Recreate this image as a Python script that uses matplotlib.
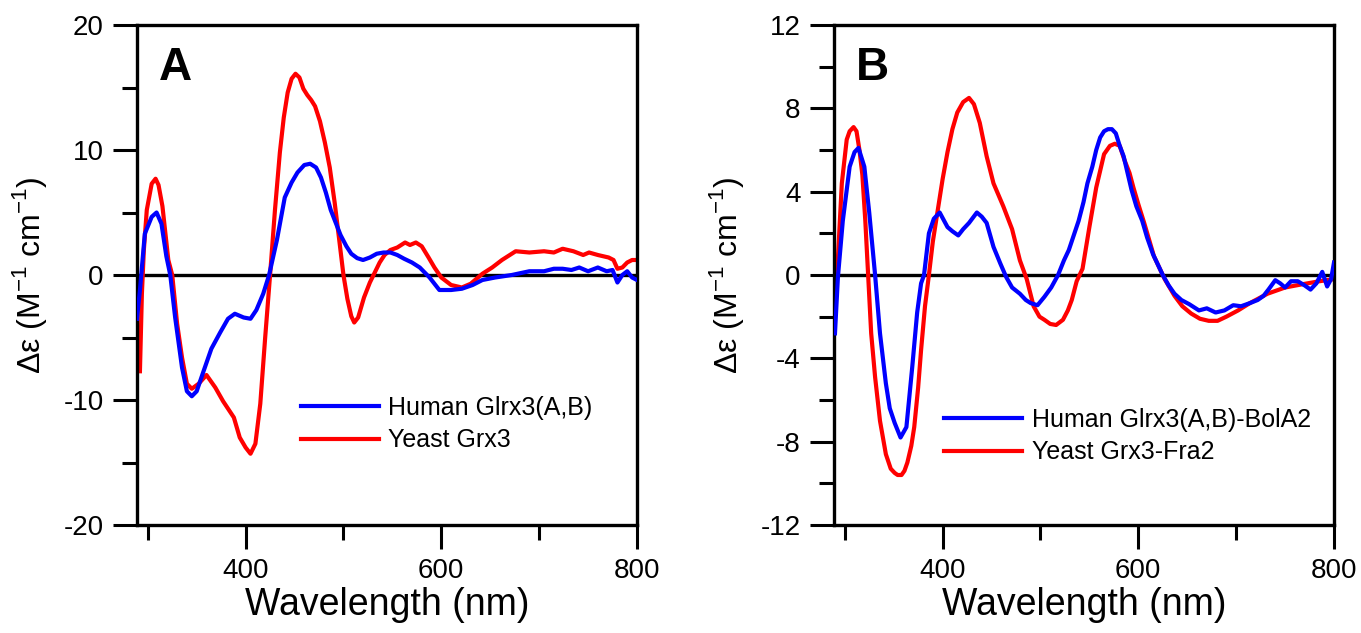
import matplotlib
matplotlib.use("Agg")
import matplotlib.pyplot as plt
from matplotlib.ticker import MultipleLocator

plt.rcParams["font.family"] = ["Liberation Sans", "DejaVu Sans"]
plt.rcParams["mathtext.fontset"] = "custom"
plt.rcParams["mathtext.rm"] = "Liberation Sans"
plt.rcParams["axes.unicode_minus"] = False

# ---- Panel A: Human Glrx3(A,B) vs Yeast Grx3 ----
a_human_wl = [289, 292, 297, 304, 309, 314, 319, 323, 328, 335, 340, 345, 350, 357,
              365, 374, 382, 389, 398, 405, 411, 418, 424, 432, 440, 447, 453, 460,
              466, 472, 477, 482, 487, 492, 497, 503, 508, 514, 520, 527, 534, 541,
              548, 555, 562, 570, 578, 588, 598, 610, 621, 632, 642, 655, 672, 690,
              705, 715, 724, 733, 741, 750, 760, 769, 775, 780, 785, 790, 795, 800]
a_human_de = [-3.5, -1.2, 3.3, 4.65, 5.0, 4.1, 1.5, 0, -3.4, -7.4, -9.3, -9.7, -9.3,
              -7.7, -5.9, -4.6, -3.5, -3.1, -3.4, -3.5, -2.8, -1.5, 0, 2.8, 6.2, 7.4,
              8.2, 8.8, 8.9, 8.6, 7.8, 6.6, 5.2, 4.2, 3.2, 2.3, 1.7, 1.35, 1.2, 1.4,
              1.7, 1.8, 1.8, 1.6, 1.3, 1.0, 0.6, -0.2, -1.2, -1.2, -1.1, -0.8, -0.4,
              -0.2, 0.0, 0.3, 0.3, 0.5, 0.5, 0.4, 0.6, 0.3, 0.6, 0.3, 0.4, -0.6, 0.0,
              0.3, -0.2, -0.4]

a_yeast_wl = [292, 294, 296, 299, 304, 308, 311, 315, 321, 325, 330, 335, 340, 345,
              352, 360, 369, 377, 388, 394, 400, 405, 410, 415, 420, 425, 430, 435,
              439, 443, 447, 451, 455, 459, 463, 467, 471, 476, 481, 486, 491, 496,
              500, 504, 508, 511, 515, 521, 527, 532, 537, 542, 548, 555, 563, 568,
              574, 580, 587, 593, 600, 610, 621, 630, 642, 652, 662, 676, 690, 705,
              715, 724, 735, 745, 751, 760, 771, 776, 780, 785, 790, 795, 800]
a_yeast_de = [-7.7, -1.5, 2.0, 5.2, 7.3, 7.7, 7.2, 5.5, 1.2, 0, -3.9, -6.6, -8.7, -9.1,
              -8.7, -8.0, -9.0, -10.1, -11.4, -13.0, -13.8, -14.3, -13.5, -10.3, -5.0,
              0, 5.2, 9.8, 12.6, 14.6, 15.7, 16.1, 15.8, 14.9, 14.4, 14.0, 13.5, 12.3,
              10.6, 8.6, 5.8, 2.6, 0, -1.9, -3.3, -3.8, -3.4, -1.8, -0.6, 0.2, 1.0,
              1.6, 2.0, 2.2, 2.6, 2.4, 2.6, 2.3, 1.4, 0.6, -0.2, -0.8, -1.0, -0.7, 0.1,
              0.6, 1.2, 1.9, 1.8, 1.9, 1.8, 2.1, 1.9, 1.6, 1.8, 1.6, 1.4, 1.2, 0.5,
              0.6, 1.0, 1.2, 1.2]

# ---- Panel B: Human Glrx3(A,B)-BolA2 vs Yeast Grx3-Fra2 ----
b_human_wl = [290, 293, 298, 305, 310, 314, 320, 325, 331, 336, 342, 346, 351, 357,
              363, 369, 374, 378, 381, 386, 391, 397, 405, 410, 416, 421, 427, 435,
              440, 445, 452, 459, 465, 471, 479, 485, 490, 497, 504, 511, 518, 524,
              529, 534, 539, 544, 548, 553, 557, 561, 565, 569, 573, 577, 581, 585,
              589, 593, 598, 604, 609, 615, 620, 625, 631, 637, 644, 652, 662, 670,
              679, 688, 697, 705, 714, 722, 728, 733, 740, 745, 750, 756, 763, 770,
              776, 782, 788, 793, 797, 800]
b_human_de = [-2.8, -0.1, 2.6, 5.2, 5.9, 6.1, 5.2, 3.0, 0, -2.8, -5.2, -6.4, -7.1, -7.8,
              -7.3, -4.4, -1.8, -0.4, 0, 2.0, 2.7, 3.0, 2.3, 2.1, 1.9, 2.2, 2.5, 3.0,
              2.8, 2.5, 1.35, 0.55, -0.1, -0.6, -0.9, -1.2, -1.35, -1.45, -1.05, -0.6,
              0, 0.7, 1.2, 1.9, 2.6, 3.5, 4.4, 5.2, 6.0, 6.6, 6.9, 7.0, 7.0, 6.8, 6.2,
              5.7, 4.9, 4.1, 3.3, 2.6, 1.8, 1.0, 0.5, 0, -0.5, -0.9, -1.2, -1.4, -1.7,
              -1.6, -1.8, -1.7, -1.45, -1.5, -1.35, -1.2, -1.0, -0.7, -0.25, -0.4,
              -0.6, -0.3, -0.3, -0.5, -0.7, -0.4, 0.15, -0.55, -0.2, 0.6]

b_yeast_wl = [290, 293, 297, 302, 305, 309, 312, 315, 318, 321, 324, 327, 331, 336,
              342, 347, 351, 354, 358, 361, 364, 368, 371, 375, 378, 382, 386, 390,
              395, 400, 405, 410, 415, 421, 427, 432, 438, 445, 452, 462, 471, 479,
              486, 493, 499, 504, 510, 516, 523, 528, 532, 537, 543, 550, 557, 565,
              571, 576, 581, 586, 591, 595, 600, 606, 611, 616, 622, 627, 632, 637,
              645, 654, 663, 672, 681, 690, 702, 714, 732, 750, 767, 785, 800]
b_yeast_de = [-1.0, 0.8, 4.4, 6.5, 6.9, 7.1, 6.9, 6.0, 4.8, 2.6, -0.1, -2.8, -4.9,
              -7.0, -8.6, -9.3, -9.5, -9.6, -9.6, -9.4, -9.0, -8.2, -7.3, -5.4, -3.6,
              -1.5, 0, 1.6, 3.1, 4.6, 5.9, 7.0, 7.8, 8.3, 8.5, 8.2, 7.3, 5.7, 4.4, 3.3,
              2.2, 0.7, -0.2, -1.5, -2.0, -2.15, -2.35, -2.4, -2.15, -1.7, -1.2, -0.3,
              0.3, 2.3, 4.2, 5.8, 6.2, 6.3, 6.2, 5.5, 4.9, 4.2, 3.4, 2.5, 1.7, 0.9,
              0.3, -0.2, -0.6, -1.0, -1.5, -1.85, -2.1, -2.2, -2.2, -2.0, -1.7, -1.35,
              -0.9, -0.6, -0.45, -0.3, -0.2]

panels = [
    ("A", a_human_wl, a_human_de, a_yeast_wl, a_yeast_de,
     "Human Glrx3(A,B)", "Yeast Grx3", (-20, 20), 10, 5, (0.328, 0.258)),
    ("B", b_human_wl, b_human_de, b_yeast_wl, b_yeast_de,
     "Human Glrx3(A,B)-BolA2", "Yeast Grx3-Fra2", (-12, 12), 4, 2, (0.22, 0.234)),
]

W, H = 1361, 633
fig = plt.figure(figsize=(W / 100, H / 100), dpi=100)
lefts = [137, 834]

for left, (tag, hx, hy, yx, yy, hlab, ylab, ylim, major, minor, legxy) in zip(lefts, panels):
    ax = fig.add_axes([left / W, (H - 525) / H, 500 / W, 500 / H])
    ax.axhline(0, color="black", lw=2.4, zorder=1)
    ax.plot(hx, hy, color="#0000ff", lw=3, label=hlab, zorder=3,
            solid_joinstyle="round")
    ax.plot(yx, yy, color="#ff0000", lw=3, label=ylab, zorder=2,
            solid_joinstyle="round")

    ax.set_xlim(289, 800)
    ax.set_ylim(*ylim)
    ax.xaxis.set_major_locator(MultipleLocator(200))
    ax.xaxis.set_minor_locator(MultipleLocator(100))
    ax.yaxis.set_major_locator(MultipleLocator(major))
    ax.yaxis.set_minor_locator(MultipleLocator(minor))
    ax.tick_params(which="both", direction="out", width=2.2, labelsize=20,
                   top=False, right=False)
    ax.tick_params(which="major", length=17, pad=7)
    ax.tick_params(which="minor", length=11)
    for sp in ax.spines.values():
        sp.set_linewidth(2.4)

    ax.set_xlabel("Wavelength (nm)", fontsize=27, labelpad=2)
    ax.set_ylabel("Δε (M$^{\\mathregular{-1}}$ cm$^{\\mathregular{-1}}$)", fontsize=23)
    ax.yaxis.set_label_coords(-0.176, 0.5)

    ax.text(0.044, 0.89, tag, transform=ax.transAxes, fontsize=33,
            fontweight="bold", va="baseline", ha="left")

    ax.legend(loc="upper left", bbox_to_anchor=legxy, frameon=False, fontsize=18,
              handlelength=3.1, handletextpad=0.4, labelspacing=0.33,
              borderpad=0, borderaxespad=0)

fig.savefig("out.png", dpi=100)
